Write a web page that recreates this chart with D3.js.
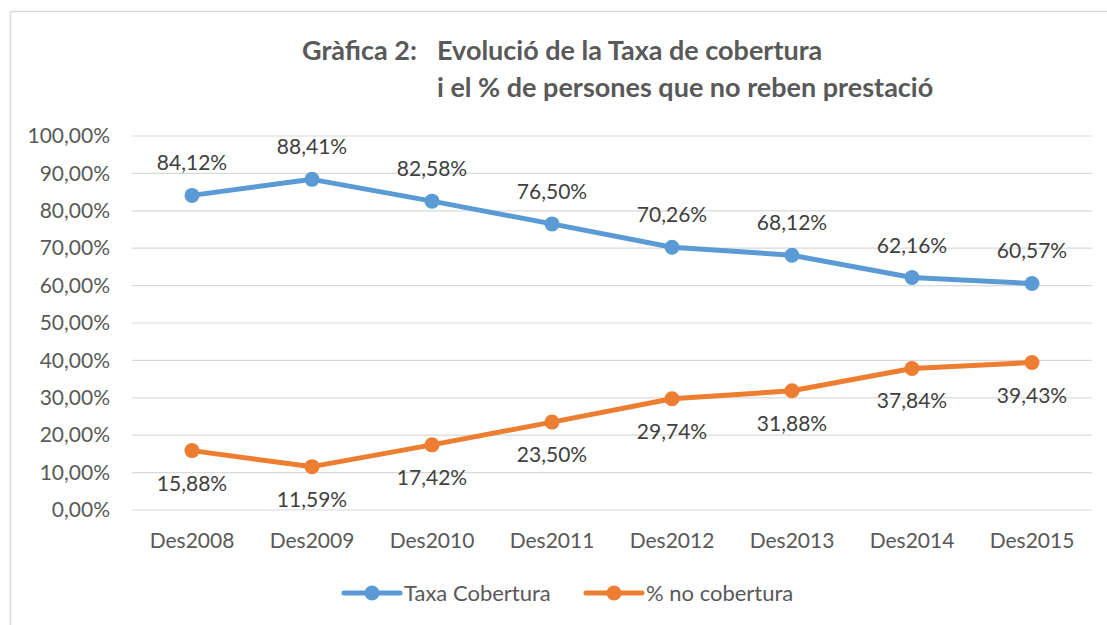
<!DOCTYPE html>
<html><head><meta charset="utf-8">
<script src="https://cdn.jsdelivr.net/npm/d3@7"></script>
<style>body{margin:0;background:#fff}svg{display:block}</style>
</head><body>
<svg id="c" width="1107" height="625"></svg>
<script>
const categories = ["Des2008","Des2009","Des2010","Des2011","Des2012","Des2013","Des2014","Des2015"];
const taxaCobertura = [84.12, 88.41, 82.58, 76.50, 70.26, 68.12, 62.16, 60.57];
const noCobertura = [15.88, 11.59, 17.42, 23.50, 29.74, 31.88, 37.84, 39.43];
const yTicks = [0,10,20,30,40,50,60,70,80,90,100];
const seriesNames = ["Taxa Cobertura", "% no cobertura"];

const font = "Lato, 'Open Sans', sans-serif";
const svg = d3.select("#c");
svg.append("rect").attr("x",10.5).attr("y",11.5).attr("width",1110).attr("height",640)
  .attr("fill","#fff").attr("stroke","#d9d9d9").attr("stroke-width",1.5);

const x = d3.scaleBand().domain(categories).range([132,1092]);
const y = d3.scaleLinear().domain([0,100]).range([510,136]);
const fmt = v => d3.format(".2f")(v).replace(".",",") + "%";

// gridlines
svg.append("g").selectAll("line").data(yTicks).join("line")
  .attr("x1",132).attr("x2",1092).attr("y1",d=>y(d)).attr("y2",d=>y(d))
  .attr("stroke","#d9d9d9").attr("stroke-width",1.2);

const yAxis = svg.append("g").attr("transform","translate(132,0)")
  .call(d3.axisLeft(y).tickValues(yTicks).tickSize(0).tickPadding(22).tickFormat(fmt));
yAxis.select(".domain").remove();
yAxis.selectAll("text").attr("font-family",font).attr("font-size",21).attr("fill","#595959");

const xAxis = svg.append("g").attr("transform","translate(0,510)")
  .call(d3.axisBottom(x).tickSize(0).tickPadding(23));
xAxis.select(".domain").remove();
xAxis.selectAll("text").attr("font-family",font).attr("font-size",21).attr("fill","#595959");

// title
const t = svg.append("g").attr("font-family",font).attr("font-weight","bold").attr("font-size",27).attr("fill","#595959");
t.append("text").attr("x",302).attr("y",60).text("Gràfica 2:");
t.append("text").attr("x",437).attr("y",60).text("Evolució de la Taxa de cobertura");
t.append("text").attr("x",437).attr("y",97).text("i el % de persones que no reben prestació");

const colors = ["#5B9BD5","#ED7D31"];
const data = [taxaCobertura, noCobertura];
const line = d3.line().x((d,i)=>x(categories[i])+x.bandwidth()/2).y(d=>y(d));
data.forEach((vals,k)=>{
  svg.append("path").datum(vals).attr("d",line).attr("fill","none")
    .attr("stroke",colors[k]).attr("stroke-width",5).attr("stroke-linejoin","round").attr("stroke-linecap","round");
  svg.append("g").selectAll("circle").data(vals).join("circle")
    .attr("cx",(d,i)=>x(categories[i])+x.bandwidth()/2).attr("cy",d=>y(d)).attr("r",7.5).attr("fill",colors[k]);
  svg.append("g").selectAll("text").data(vals).join("text")
    .attr("x",(d,i)=>x(categories[i])+x.bandwidth()/2)
    .attr("y",d=>k===0 ? y(d)-25 : y(d)+40)
    .attr("text-anchor","middle").attr("font-family",font).attr("font-size",21).attr("fill","#404040")
    .text(fmt);
});

// legend
const legX = [344, 586];
seriesNames.forEach((n,k)=>{
  const g = svg.append("g").attr("transform",`translate(${legX[k]},593)`);
  g.append("line").attr("x1",0).attr("x2",56).attr("stroke",colors[k]).attr("stroke-width",5).attr("stroke-linecap","round");
  g.append("circle").attr("cx",28).attr("r",7.5).attr("fill",colors[k]);
  g.append("text").attr("x",60).attr("y",7.5).attr("font-family",font).attr("font-size",22).attr("fill","#595959").text(n);
});
</script>
</body></html>
